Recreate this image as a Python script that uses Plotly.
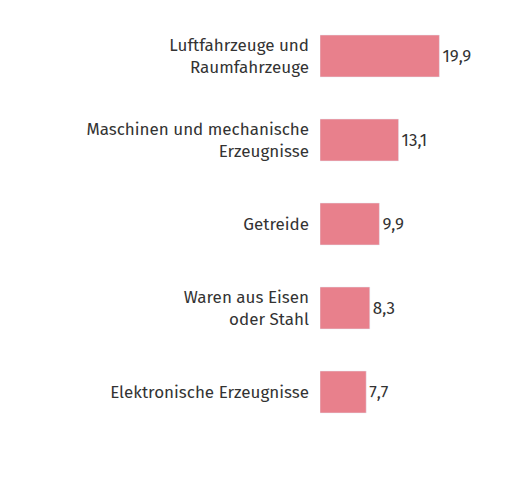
import plotly.graph_objects as go

categories = ["Luftfahrzeuge und<br>Raumfahrzeuge", "Maschinen und mechanische<br>Erzeugnisse", "Getreide", "Waren aus Eisen<br>oder Stahl", "Elektronische Erzeugnisse"]
values = [19.9, 13.1, 9.9, 8.3, 7.7]
labels = ["19,9", "13,1", "9,9", "8,3", "7,7"]

fig = go.Figure(go.Bar(
    y=categories, x=values, orientation="h",
    marker=dict(color="#e8808c"),
    text=labels, textposition="outside", cliponaxis=False,
    textfont=dict(family="Fira Sans, Open Sans, sans-serif", size=17, color="#333333"),
))
fig.update_layout(
    width=522, height=490, margin=dict(l=312, r=30, t=6, b=64),
    paper_bgcolor="white", plot_bgcolor="white", bargap=0.5, showlegend=False,
    font=dict(family="Fira Sans, Open Sans, sans-serif", size=17, color="#333333"),
)
fig.update_xaxes(range=[0, 30], visible=False)
fig.update_yaxes(autorange="reversed", showline=False, ticks="", ticklabelstandoff=10)
fig.write_html("out.html")
